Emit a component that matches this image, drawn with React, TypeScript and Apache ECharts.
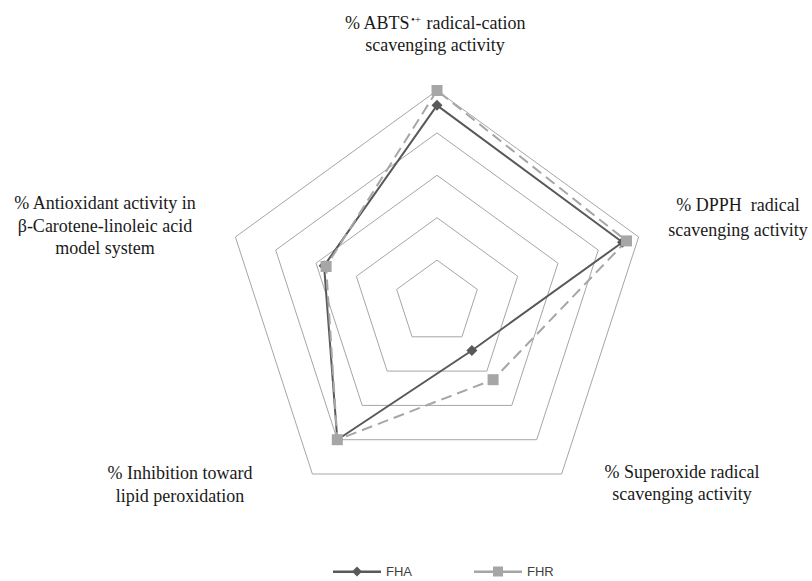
import React, { useEffect, useRef } from "react";
import * as echarts from "echarts";

// Indicators in ECharts order (counter-clockwise from top)
const indicatorNames = [
  "% ABTS•+ radical-cation scavenging activity",
  "% Antioxidant activity in β-Carotene-linoleic acid model system",
  "% Inhibition toward lipid peroxidation",
  "% Superoxide radical scavenging activity",
  "% DPPH radical scavenging activity",
];
const indicatorMax = [100, 100, 100, 100, 100];

const seriesNames = ["FHA", "FHR"];
const fhaValues = [93, 56, 80, 28, 92];
const fhrValues = [100, 55, 80, 45, 94];

// Label text (rich-formatted) for each indicator, same order
const labelTexts = [
  "% ABTS{sup|•+} radical-cation\nscavenging activity",
  "% Antioxidant activity in\nβ-Carotene-linoleic acid\nmodel system",
  "% Inhibition toward\nlipid peroxidation",
  "% Superoxide radical\nscavenging activity",
  "% DPPH  radical\nscavenging activity",
];

export default function App() {
  const ref = useRef<HTMLDivElement>(null);

  useEffect(() => {
    if (!ref.current) return;
    const chart = echarts.init(ref.current, undefined, { renderer: "svg" });

    const labelPos = [
      { x: 435, y: 34, lh: 22 },
      { x: 105, y: 225.5, lh: 22.5 },
      { x: 180, y: 484.5, lh: 23 },
      { x: 682, y: 482.5, lh: 22 },
      { x: 738, y: 217.5, lh: 25 },
    ];

    const serif = "'Liberation Serif', 'Times New Roman', serif";

    const graphics = labelTexts.map((t, i) => ({
      type: "text",
      x: labelPos[i].x,
      y: labelPos[i].y,
      silent: true,
      style: {
        text: t,
        fill: "#1a1a1a",
        font: `18px ${serif}`,
        fontFamily: serif,
        fontSize: 18,
        lineHeight: labelPos[i].lh,
        align: "center",
        verticalAlign: "middle",
        rich: {
          sup: {
            fontSize: 11,
            fontFamily: serif,
            fill: "#1a1a1a",
            padding: [0, 1, 9, 1],
          },
        },
      },
    }));

    chart.setOption({
      animation: false,
      backgroundColor: "#ffffff",
      legend: {
        data: [
          {
            name: seriesNames[0],
            icon: "path://M0,4 L48,4 L48,6.5 L0,6.5 Z M24,0 L29,5 L24,10 L19,5 Z",
          },
          {
            name: seriesNames[1],
            icon: "path://M0,4 L48,4 L48,6.5 L0,6.5 Z M19,0 L29,0 L29,10 L19,10 Z",
          },
        ],
        left: 333,
        top: 565,
        padding: 0,
        itemWidth: 48,
        itemHeight: 10,
        itemGap: 62,
        textStyle: {
          fontFamily: "'Liberation Sans', Arial, sans-serif",
          fontSize: 13,
          color: "#404040",
        },
      },
      radar: {
        center: [437, 302.5],
        radius: 212,
        startAngle: 90,
        shape: "polygon",
        splitNumber: 5,
        indicator: indicatorNames.map((n, i) => ({ name: n, min: 0, max: indicatorMax[i] })),
        axisName: { show: false },
        axisLine: { show: false },
        axisTick: { show: false },
        axisLabel: { show: false },
        splitArea: { show: false },
        splitLine: { lineStyle: { color: "#a6a6a6", width: 1 } },
      },
      series: [
        {
          type: "radar",
          data: [
            {
              name: seriesNames[0],
              value: fhaValues,
              symbol: "diamond",
              symbolSize: 11,
              itemStyle: { color: "#595959" },
              lineStyle: { color: "#595959", width: 2, type: "solid" },
            },
            {
              name: seriesNames[1],
              value: fhrValues,
              symbol: "rect",
              symbolSize: 11,
              itemStyle: { color: "#a6a6a6" },
              lineStyle: { color: "#a6a6a6", width: 2, type: [11, 6] },
            },
          ],
        },
      ],
      graphic: graphics,
    });

    return () => chart.dispose();
  }, []);

  return (
    <div
      ref={ref}
      style={{ position: "absolute", left: 0, top: 0, width: 812, height: 581 }}
    />
  );
}
